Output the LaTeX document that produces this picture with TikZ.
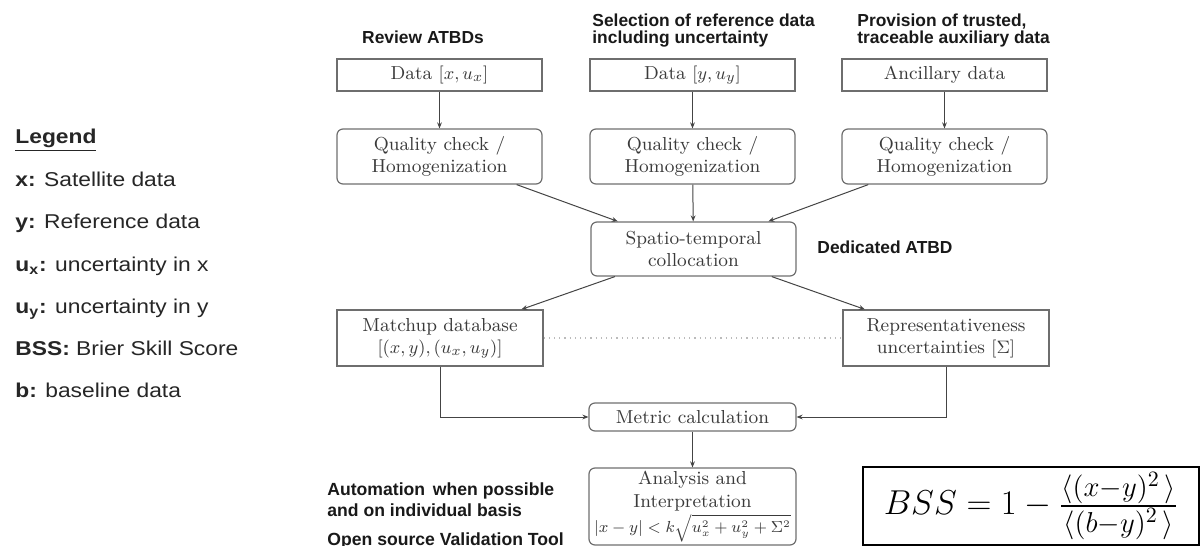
\documentclass[tikz,border=0pt]{standalone}
\usepackage{amsmath}
\usepackage{fontspec}
\newfontfamily\labfont{Liberation Sans}
\newfontfamily\legfont[FakeStretch=1.14]{Liberation Sans}
\usetikzlibrary{arrows.meta}
\definecolor{boxc}{HTML}{6E6E6E}
\definecolor{txtc}{HTML}{3A3A3A}
\definecolor{arrc}{HTML}{444444}
\definecolor{dotc}{HTML}{BBBBBB}
\begin{document}
\begin{tikzpicture}[x=0.5pt,y=-0.5pt,
  box/.style={draw=boxc, line width=0.6pt, text=txtc, align=center,
    font=\fontsize{9.4}{11}\selectfont, inner sep=0pt, minimum width=102.5pt},
  rbox/.style={box, rounded corners=3pt},
  arr/.style={draw=arrc, line width=0.5pt, -{Stealth[length=3pt,width=2.4pt]}},
  lab/.style={font=\labfont\bfseries\fontsize{8.7}{8.5}\selectfont, text=black!90, align=left, inner sep=0pt},
  blab/.style={font=\labfont\bfseries\fontsize{8.8}{10.5}\selectfont, text=black!90, align=left, inner sep=0pt},
  leg/.style={font=\legfont\fontsize{10}{12}\selectfont, text=black!85, inner sep=0pt, anchor=base west}
]
\useasboundingbox (0,0) rectangle (1201,546);

% top data boxes
\node[box, minimum height=16pt] (d1) at (439.5,75) {Data $[x,u_x]$};
\node[box, minimum height=16pt] (d2) at (692.5,75) {Data $[y,u_y]$};
\node[box, minimum height=16pt] (d3) at (944.5,75) {Ancillary data};

% quality boxes
\node[rbox, minimum height=27.5pt] (q1) at (439.5,156.5) {Quality check /\\Homogenization};
\node[rbox, minimum height=27.5pt] (q2) at (692.5,156.5) {Quality check /\\Homogenization};
\node[rbox, minimum height=27.5pt] (q3) at (944.5,156.5) {Quality check /\\Homogenization};

% collocation
\node[rbox, minimum height=27pt] (st) at (693.5,249) {Spatio-temporal\\collocation};

% matchup and representativeness
\node[box, minimum height=28pt, minimum width=103pt] (mu) at (440,338) {Matchup database\\$[(x,y),(u_x,u_y)]$};
\node[box, minimum height=28pt, minimum width=103pt] (rep) at (946,338) {Representativeness\\uncertainties $[\Sigma]$};

% metric and analysis
\node[rbox, minimum height=14pt, minimum width=103.5pt] (mc) at (692.5,417) {Metric calculation};
\node[rbox, minimum height=38.5pt, minimum width=103.5pt, font=\fontsize{9.4}{11.5}\selectfont] (an) at (692.5,506.5)
  {Analysis and\\Interpretation\\[1pt]{\fontsize{7.6}{11.5}\selectfont$|x-y|<k\sqrt{u_x^2+u_y^2+\Sigma^2}$}};

% connectors
\draw[arr] (d1) -- (q1);
\draw[arr] (d2) -- (q2);
\draw[arr] (d3) -- (q3);
\draw[arr] (q1) -- (st);
\draw[arr] (q2) -- (st);
\draw[arr] (q3) -- (st);
\draw[arr] (st) -- (mu);
\draw[arr] (st) -- (rep);
\draw[draw=dotc, line width=0.6pt, dotted] (mu.east) -- (rep.west);
\draw[arr] (mu.south) |- (mc.west);
\draw[arr] (rep.south) |- (mc.east);
\draw[arr] (mc) -- (an);

% labels
\node[lab, anchor=base] (l1) at (423,43) {Review ATBDs};
\node[lab, anchor=west] (l2) at (592,30.5) {Selection of reference data\\including uncertainty};
\node[lab, anchor=west] (l3) at (857,30.5) {Provision of trusted,\\traceable auxiliary data};
\node[lab, anchor=base] (l4) at (885,253) {Dedicated ATBD};
\node[blab, anchor=west] (l5) at (327,499.5) {Automation\, when possible\\and on individual basis};
\node[blab, anchor=base west] (l6) at (327,545) {Open source Validation Tool};

% legend
\node[leg, font=\legfont\bfseries\fontsize{10}{12}\selectfont] (lg0) at (15,143) {\underline{Legend}};
\node[leg] (lg1) at (15,186) {\textbf{x:} Satellite data};
\node[leg] (lg2) at (15,228) {\textbf{y:} Reference data};
\node[leg] (lg3) at (15,271) {\textbf{u\textsubscript{x}:} uncertainty in x};
\node[leg] (lg4) at (15,313) {\textbf{u\textsubscript{y}:} uncertainty in y};
\node[leg] (lg5) at (15,355) {\textbf{BSS:} Brier Skill Score};
\node[leg] (lg6) at (15,397) {\textbf{b:} baseline data};

% formula box
\node[draw=black, line width=1pt, minimum width=168pt, minimum height=39pt, inner sep=0pt,
  font=\fontsize{18.5}{22}\selectfont] (bss) at (1031,506)
  {$BSS = 1 - \frac{\hbox{\fontsize{15.5}{17}\selectfont$\langle (x{-}y)^2\,\rangle$}}{\hbox{\fontsize{15.5}{17}\selectfont$\langle (b{-}y)^2\,\rangle$}}$};
\end{tikzpicture}
\end{document}
